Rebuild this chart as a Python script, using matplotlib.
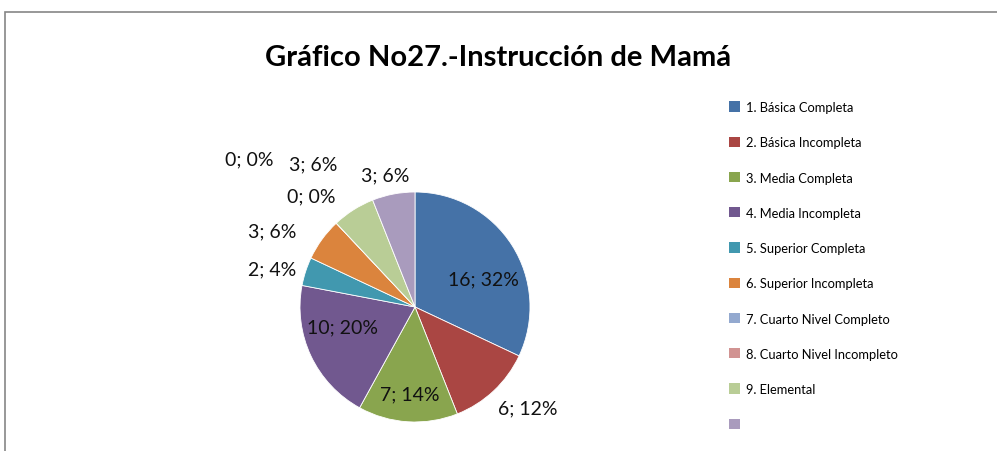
import matplotlib.pyplot as plt
import numpy as np
from matplotlib.patches import Patch, Rectangle

# data
categories = ["1. Básica Completa", "2. Básica Incompleta", "3. Media Completa",
              "4. Media Incompleta", "5. Superior Completa", "6. Superior Incompleta",
              "7. Cuarto Nivel Completo", "8. Cuarto Nivel Incompleto", "9. Elemental", ""]
values = [16, 6, 7, 10, 2, 3, 0, 0, 3, 3]
colors = ["#4572A7", "#AA4643", "#89A54E", "#71588F", "#4198AF",
          "#DB843D", "#93A9CF", "#D19392", "#B9CD96", "#A99BBD"]
# label distance from centre (in radii) and angle nudge (deg), per slice
label_dist = [0.64, 1.31, 0.76, 0.65, 1.29, 1.41, 1.32, 1.93, 1.53, 1.18]
label_nudge = [-10, 5, 0, -10, 3, 8, 0, 5, 3, 2]

plt.rcParams['font.family'] = ['Lato', 'DejaVu Sans']

fig = plt.figure(figsize=(9.97, 4.52), dpi=100)

# chart frame
fig.patches.append(Rectangle((5 / 997, -0.1), 2.0, (452 - 13) / 452 + 0.1,
                             transform=fig.transFigure, fill=False,
                             edgecolor="#868686", linewidth=1.2))

fig.text(0.5, 0.872, "Gráfico No27.-Instrucción de Mamá", ha="center", va="center",
         fontsize=21, fontweight="bold")

ax = fig.add_axes([0.3009, 0.0642, 0.2307, 0.5088])
wedges, _ = ax.pie(values, colors=colors, startangle=90, counterclock=False,
                   radius=1, wedgeprops=dict(edgecolor="white", linewidth=0.6))
ax.set_xlim(-1, 1)
ax.set_ylim(-1, 1)
ax.set_aspect("auto")

total = sum(values)
for w, v, d, n in zip(wedges, values, label_dist, label_nudge):
    mid = np.deg2rad((w.theta1 + w.theta2) / 2 + n)
    pct = round(100 * v / total)
    ax.text(d * np.cos(mid), d * np.sin(mid), f"{v}; {pct}%", ha="center", va="center",
            fontsize=14, color="#111111", clip_on=False)

handles = [Patch(facecolor=c, edgecolor="none") for c in colors]
fig.legend(handles, categories, loc="upper left", bbox_to_anchor=(0.72, 0.80),
           frameon=False, fontsize=9.3, handlelength=0.85, handleheight=0.85,
           handletextpad=0.4, labelspacing=1.8)

fig.savefig("out.png", dpi=100)
